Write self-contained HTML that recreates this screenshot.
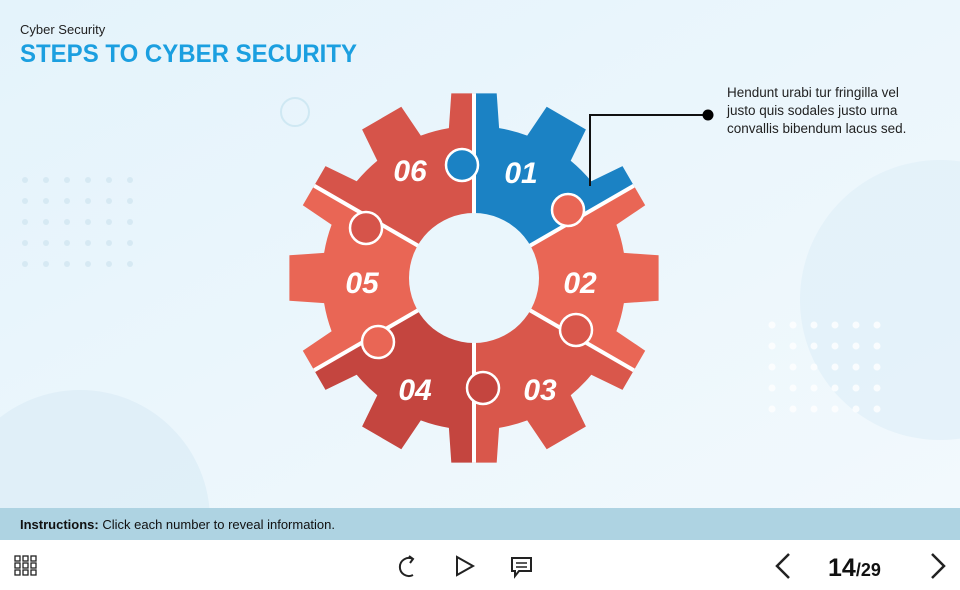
<!DOCTYPE html>
<html><head><meta charset="utf-8"><style>
html,body{margin:0;padding:0;width:960px;height:590px;overflow:hidden;background:#fff}
svg{display:block}
</style></head><body>
<svg id="s" width="960" height="590" viewBox="0 0 960 590" xmlns="http://www.w3.org/2000/svg" font-family="Liberation Sans, sans-serif">
<defs>
<linearGradient id="bg" x1="0" y1="0" x2="1" y2="1">
<stop offset="0" stop-color="#e4f3fb"/><stop offset="1" stop-color="#f2f9fd"/>
</linearGradient>
<clipPath id="gc"><path id="gearp" d=""/></clipPath>
</defs>
<rect width="960" height="508" fill="url(#bg)"/>
<circle cx="940" cy="300" r="140" fill="#dff0f8" opacity="0.7"/>
<circle cx="80" cy="520" r="130" fill="#dcedf7" opacity="0.7"/>
<circle cx="295" cy="112" r="14" fill="none" stroke="#cfe8f3" stroke-width="2"/>
<g id="dots1" fill="#d6e9f3"></g>
<g id="dots2" fill="#ffffff" opacity="0.8"></g>
<text x="20" y="34" font-size="13" fill="#222">Cyber Security</text>
<text x="20" y="62" font-size="25" font-weight="bold" fill="#1b9fe0" textLength="337" lengthAdjust="spacingAndGlyphs">STEPS TO CYBER SECURITY</text>

<g clip-path="url(#gc)"><g id="sectors"></g><g id="gaps" stroke="#fff" stroke-width="4"></g></g>
<g id="knobs" stroke="#fff" stroke-width="2.5"></g>
<circle cx="474" cy="278" r="65" fill="#eaf6fc"/>
<g font-size="30" font-weight="bold" font-style="italic" fill="#fff" text-anchor="middle">
<text x="521" y="183">01</text><text x="580" y="293">02</text><text x="540" y="400">03</text>
<text x="415" y="400">04</text><text x="362" y="293">05</text><text x="410" y="181">06</text>
</g>
<polyline points="708,115 590,115 590,186" fill="none" stroke="#111" stroke-width="2"/>
<circle cx="708" cy="115" r="5.5" fill="#000"/>
<g font-size="13.5" fill="#222">
<text x="727" y="97">Hendunt urabi tur fringilla vel</text>
<text x="727" y="115">justo quis sodales justo urna</text>
<text x="727" y="133">convallis bibendum lacus sed.</text>
</g>
<rect x="0" y="508" width="960" height="32" fill="#aed3e2"/>
<text x="20" y="529" font-size="13" fill="#111"><tspan font-weight="bold">Instructions:</tspan> Click each number to reveal information.</text>
<rect x="0" y="540" width="960" height="50" fill="#fff"/>
<g fill="none" stroke="#222" stroke-width="1.5">
<g id="grid"></g>
<path d="M413 559 A9 9 0 1 0 413 575" stroke-width="2"/><path d="M409 556 L413 559 L410 563" stroke-width="2"/>
<path d="M457 557 L473 566 L457 575 Z" stroke-width="2"/>
<path d="M512 558 H531 V571 H519 L515 576 V571 H512 Z" stroke-width="2"/><path d="M516 563 H527 M516 567 H527"/>
<path d="M789 554 L777 566 L789 578" stroke-width="2.5"/>
<path d="M932 554 L944 566 L932 578" stroke-width="2.5"/>
</g>
<text x="828" y="576" font-size="25" font-weight="bold" fill="#111">14<tspan font-size="18">/29</tspan></text>
</svg>
<script>
var cx=474,cy=278,R=152,T=186,d=[];
function P(r,a){a=a*Math.PI/180;return [(cx+r*Math.cos(a)).toFixed(1),(cy-r*Math.sin(a)).toFixed(1)];}
for(var i=0;i<12;i++){var t=i*30;
[[R,t-9.5],[T,t-7],[T,t+7],[R,t+9.5]].forEach(function(p){d.push(P(p[0],p[1]).join(','));});
d.push('A'+R+','+R+' 0 0 0 '+P(R,t+20.5).join(','));}
var path='M'+P(R,-9.5).join(',')+' L'+d.join(' L').replace(/ LA/g,' A')+' Z';
document.getElementById('gearp').setAttribute('d',path);
var ns='http://www.w3.org/2000/svg';
function el(p,n,a){var e=document.createElementNS(ns,n);for(var k in a)e.setAttribute(k,a[k]);document.getElementById(p).appendChild(e);return e;}
var cols=[['#1b82c4',30,90],['#e96655',-30,30],['#d9574b',-90,-30],['#c4453f',210,270],['#e96655',150,210],['#d6544a',90,150]];
cols.forEach(function(c){var a=P(300,c[1]),b=P(300,(c[1]+c[2])/2),e=P(300,c[2]);
el('sectors','polygon',{points:cx+','+cy+' '+a+' '+b+' '+e,fill:c[0]});});
[90,30,-30,-90,210,150].forEach(function(a){var p=P(60,a),q=P(200,a);el('gaps','line',{x1:p[0],y1:p[1],x2:q[0],y2:q[1]});});
[[462,165,'#1b82c4'],[568,210,'#e96655'],[576,330,'#d9574b'],[483,388,'#c4453f'],[378,342,'#e96655'],[366,228,'#d6544a']].forEach(function(k){el('knobs','circle',{cx:k[0],cy:k[1],r:16,fill:k[2]});});
for(var r=0;r<3;r++)for(var c=0;c<3;c++)el('grid','rect',{x:15+c*8,y:556+r*7,width:5,height:5,'stroke-width':1.3});
for(var r=0;r<5;r++)for(var c=0;c<6;c++)el('dots1','circle',{cx:25+c*21,cy:180+r*21,r:3});
for(var r=0;r<5;r++)for(var c=0;c<6;c++)el('dots2','circle',{cx:772+c*21,cy:325+r*21,r:3.5});
</script>
</body></html>
